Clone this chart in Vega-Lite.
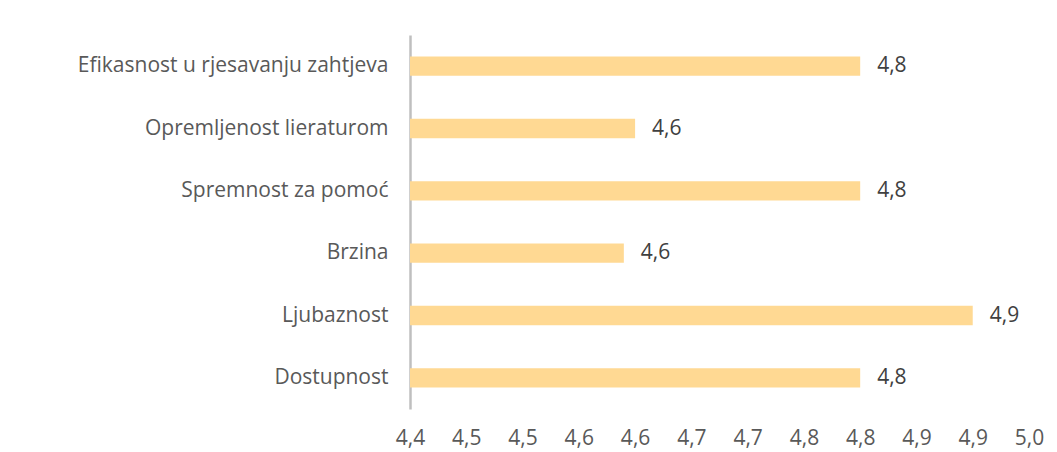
{
  "$schema": "https://vega.github.io/schema/vega-lite/v6.json",
  "autosize": {"type": "none"},
  "width": 619,
  "height": 374,
  "padding": {"left": 410, "top": 35, "right": 28, "bottom": 43},
  "background": "white",
  "config": {
    "view": {"stroke": null},
    "locale": {"number": {"decimal": ",", "thousands": ".", "grouping": [3], "currency": ["", " €"]}}
  },
  "data": {
    "values": [
      {"kategorija": "Efikasnost u rjesavanju zahtjeva", "ocjena": 4.80},
      {"kategorija": "Opremljenost lieraturom", "ocjena": 4.60},
      {"kategorija": "Spremnost za pomoć", "ocjena": 4.80},
      {"kategorija": "Brzina", "ocjena": 4.59},
      {"kategorija": "Ljubaznost", "ocjena": 4.90},
      {"kategorija": "Dostupnost", "ocjena": 4.80}
    ]
  },
  "encoding": {
    "y": {
      "field": "kategorija",
      "type": "nominal",
      "sort": null,
      "scale": {"paddingInner": 0.69, "paddingOuter": 0.345},
      "axis": {
        "title": null,
        "domainColor": "#bfbfbf",
        "domainWidth": 2.5,
        "ticks": false,
        "labelFont": "Open Sans",
        "labelFontSize": 21,
        "labelLimit": 0,
        "labelColor": "#595959",
        "labelPadding": 22
      }
    },
    "x": {
      "field": "ocjena",
      "type": "quantitative",
      "scale": {"domain": [4.4, 4.95], "zero": false, "clamp": true},
      "axis": {
        "title": null,
        "domain": false,
        "ticks": false,
        "grid": false,
        "values": [4.4, 4.45, 4.5, 4.55, 4.6, 4.65, 4.7, 4.75, 4.8, 4.85, 4.9, 4.95],
        "labelExpr": "replace(format(datum.value + 0.001, '.1f'), '.', ',')",
        "labelFont": "Open Sans",
        "labelFontSize": 21,
        "labelColor": "#595959",
        "labelPadding": 18,
        "labelFlush": false
      }
    }
  },
  "layer": [
    {"mark": {"type": "bar", "color": "#ffd993"}},
    {
      "mark": {"type": "text", "align": "left", "dx": 17, "font": "Open Sans", "fontSize": 21, "color": "#404040"},
      "encoding": {"text": {"field": "ocjena", "type": "quantitative", "format": ".1f"}}
    }
  ]
}
